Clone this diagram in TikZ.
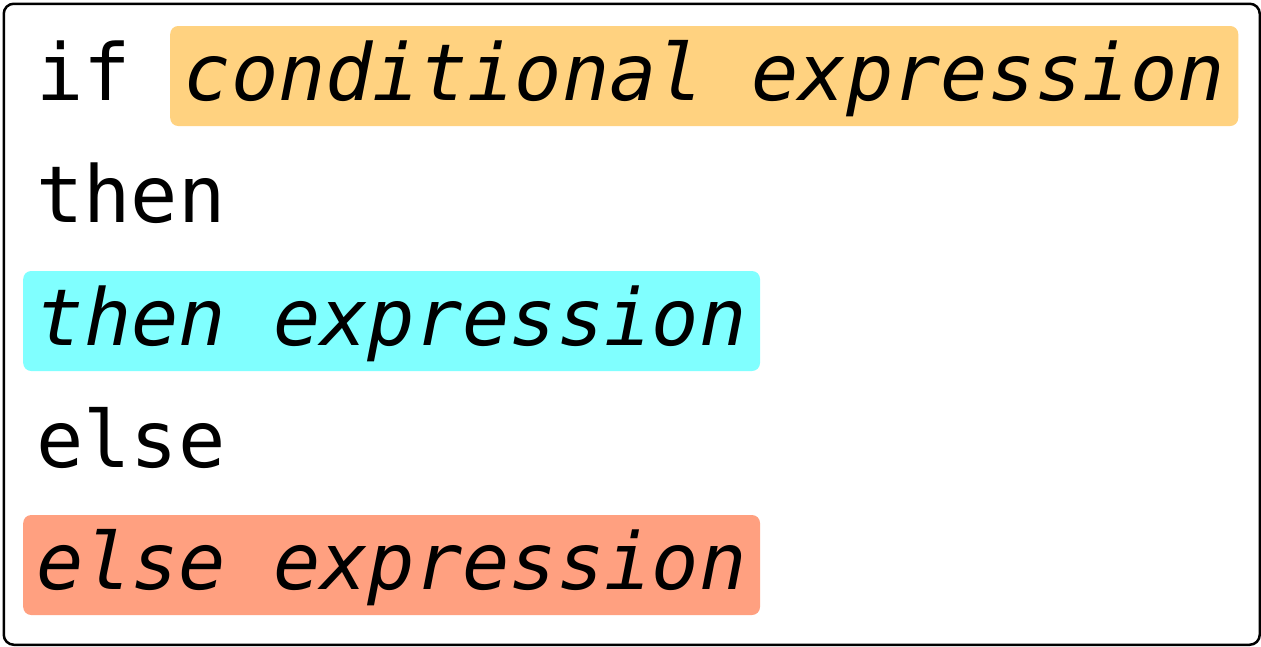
\documentclass[tikz,border=0pt]{standalone}
\usepackage{fontspec}
\setmonofont{DejaVu Sans Mono}
\definecolor{condcol}{RGB}{255,210,128}
\definecolor{thencol}{RGB}{128,255,255}
\definecolor{elsecol}{RGB}{255,160,128}
\begin{document}
\begin{tikzpicture}[x=1pt,y=-1pt,
  codetext/.style={font=\ttfamily\fontsize{78.6}{80}\selectfont, inner sep=0pt, anchor=base west},
  hl/.style={codetext, font=\ttfamily\itshape\fontsize{78.6}{80}\selectfont, fill=#1, rounded corners=8pt, inner xsep=13.5pt, inner ysep=0pt, text height=74pt, text depth=26pt}]
\useasboundingbox (0,0) rectangle (1261,646);
\node[draw, line width=2.5pt, rounded corners=10pt, minimum width=1256pt, minimum height=641pt, inner sep=0pt, anchor=north west] (frame) at (2.5,2.5) {};
\node[codetext] (kif) at (36,100) {if};
\node[hl=condcol] (cond) at (170,100) {conditional expression};
\node[codetext] (kthen) at (36,222) {then};
\node[hl=thencol] (thenexp) at (23,345) {then expression};
\node[codetext] (kelse) at (36,467) {else};
\node[hl=elsecol] (elseexp) at (23,589) {else expression};
\end{tikzpicture}
\end{document}
